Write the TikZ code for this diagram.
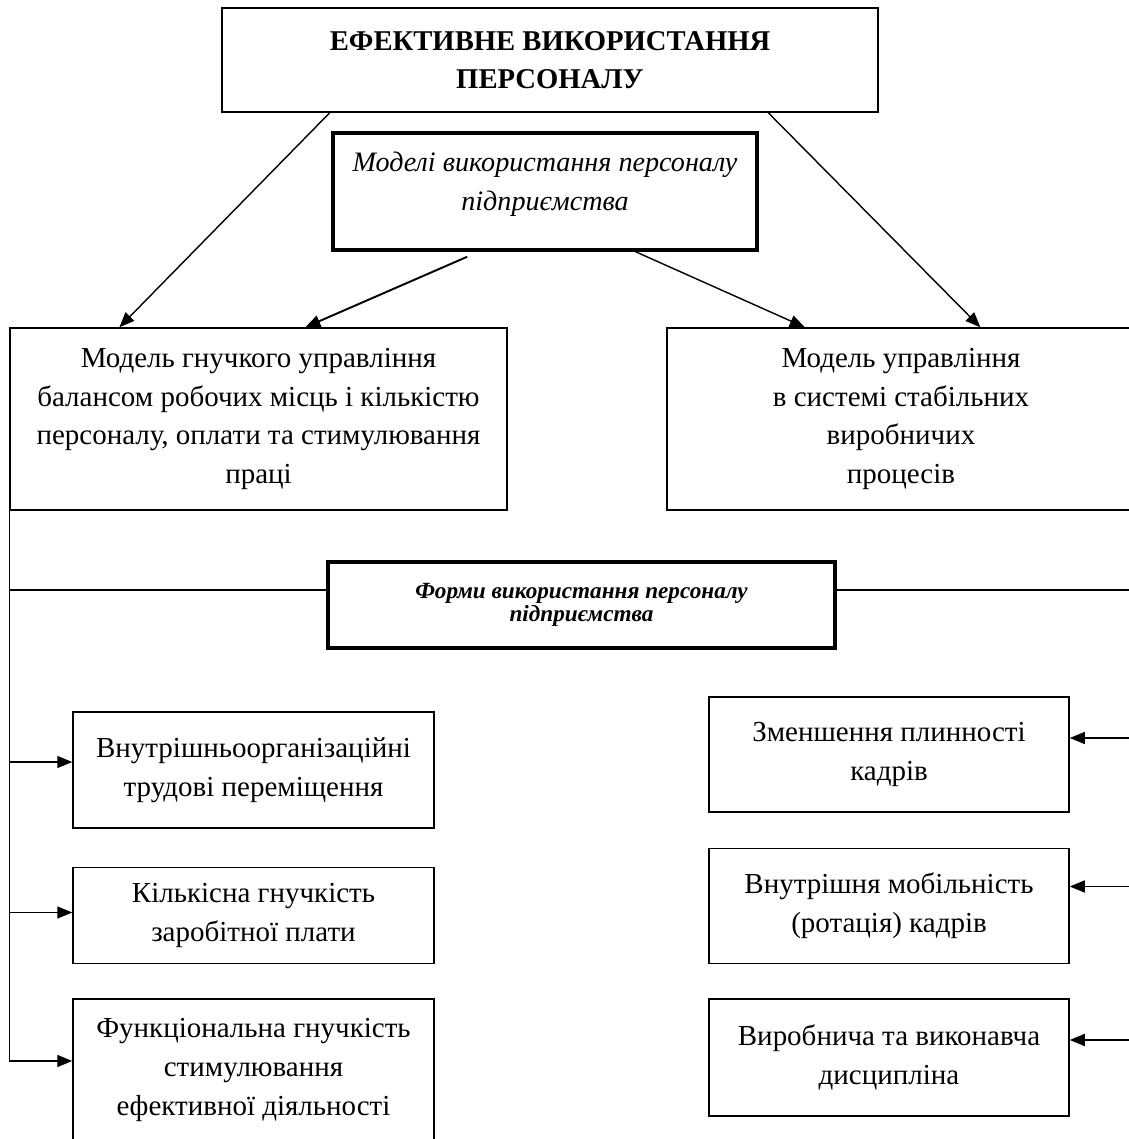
\documentclass[tikz,border=0pt]{standalone}
\usepackage{fontspec}
\setmainfont{Liberation Serif}
\usetikzlibrary{positioning,calc,arrows.meta}
\def\SmallW{7.22cm}
\def\ModelH{3.64cm}
\tikzset{
	box/.style={draw, line width=0.85pt, align=center, inner sep=2pt, font=\fontsize{16.5}{22}\selectfont},
	thickbox/.style={box, line width=2pt},
	arr/.style={-{Triangle[length=0.3cm,width=0.24cm]}, line width=0.8pt},
}

\begin{document}
\begin{tikzpicture}
	\useasboundingbox (0,0) rectangle (22.58,-22.78);
	\clip (0,0) rectangle (22.58,-22.78);
	\node[box, minimum width=13.12cm, minimum height=2.08cm, font=\bfseries\fontsize{16.3}{21.5}\selectfont] (top) at (11.0,-1.2) {ЕФЕКТИВНЕ ВИКОРИСТАННЯ\\ПЕРСОНАЛУ};
	\node[thickbox, minimum width=8.48cm, minimum height=2.34cm, font=\itshape\fontsize{16}{22}\selectfont] (models) at (10.9,-3.83) {Моделі використання персоналу\\підприємства\\[-10pt]};
	\node[box, minimum width=9.94cm, minimum height=\ModelH] (flex) at (5.17,-8.38) {Модель гнучкого управління\\балансом робочих місць і кількістю\\персоналу, оплати та стимулювання\\праці};
	\node[box, minimum width=9.36cm, minimum height=\ModelH] (stable) at (18.02,-8.38) {Модель управління\\в системі стабільних\\виробничих\\процесів};
	\node[thickbox, minimum width=10.14cm, minimum height=1.72cm, font=\bfseries\itshape\fontsize{13.2}{11.5}\selectfont] (forms) at (11.63,-12.1) {Форми використання персоналу\\підприємства};
	% left column
	\node[box, minimum width=\SmallW, minimum height=2.32cm] (move) at (5.07,-15.4) {Внутрішньоорганізаційні\\трудові переміщення};
	\node[box, minimum width=\SmallW, minimum height=1.92cm, below=0.76cm of move] (wage) {Кількісна гнучкість\\заробітної плати};
	\node[box, minimum width=\SmallW, minimum height=2.84cm, below=0.68cm of wage] (func) {Функціональна гнучкість\\стимулювання\\ефективної діяльності};
	% right column
	\node[box, minimum width=7.2cm, minimum height=2.3cm] (fluct) at (17.78,-15.09) {Зменшення плинності\\кадрів};
	\node[box, minimum width=7.2cm, minimum height=2.3cm, below=0.7cm of fluct] (rot) {Внутрішня мобільність\\(ротація) кадрів};
	\node[box, minimum width=7.2cm, minimum height=2.34cm, below=0.68cm of rot] (disc) {Виробнича та виконавча\\дисципліна};
	\coordinate (edge) at (22.7,0);
	\coordinate (fl) at ([yshift=0.3cm]forms.west);
	\coordinate (fr) at ([yshift=0.3cm]forms.east);
	\coordinate (m1) at ([yshift=0.16cm]move.west);
	\coordinate (m2) at ([yshift=0.06cm]wage.west);
	\coordinate (m3) at ([yshift=0.18cm]func.west);
	\coordinate (r1) at ([yshift=0.33cm]fluct.east);
	\coordinate (r2) at ([yshift=0.39cm]rot.east);
	\coordinate (r3) at ([yshift=0.35cm]disc.east);
	\draw[arr] ($(top.south west)!0.165!(top.south east)$) -- ($(flex.north west)!0.221!(flex.north east)$);
	\draw[arr] ($(top.south west)!0.832!(top.south east)$) -- ($(stable.north west)!0.669!(stable.north east)$);
	\draw[arr, line width=1.1pt] ($(models.south west)!0.318!(models.south east)+(0,-0.1)$) -- ($(flex.north west)!0.594!(flex.north east)$);
	\draw[arr] ($(models.south west)!0.712!(models.south east)$) -- ($(stable.north west)!0.295!(stable.north east)$);
	\draw[arr] (flex.south west) |- (m3);
	\draw[arr] (flex.south west |- m1) -- (m1);
	\draw[arr] (flex.south west |- m2) -- (m2);
	\draw[line width=0.8pt] (flex.south west |- fl) -- (fl);
	\draw[line width=0.8pt] (fr) -- (edge |- fr);
	\draw[arr] (edge |- r1) -- (r1);
	\draw[arr] (edge |- r2) -- (r2);
	\draw[arr] (edge |- r3) -- (r3);
\end{tikzpicture}
\end{document}
